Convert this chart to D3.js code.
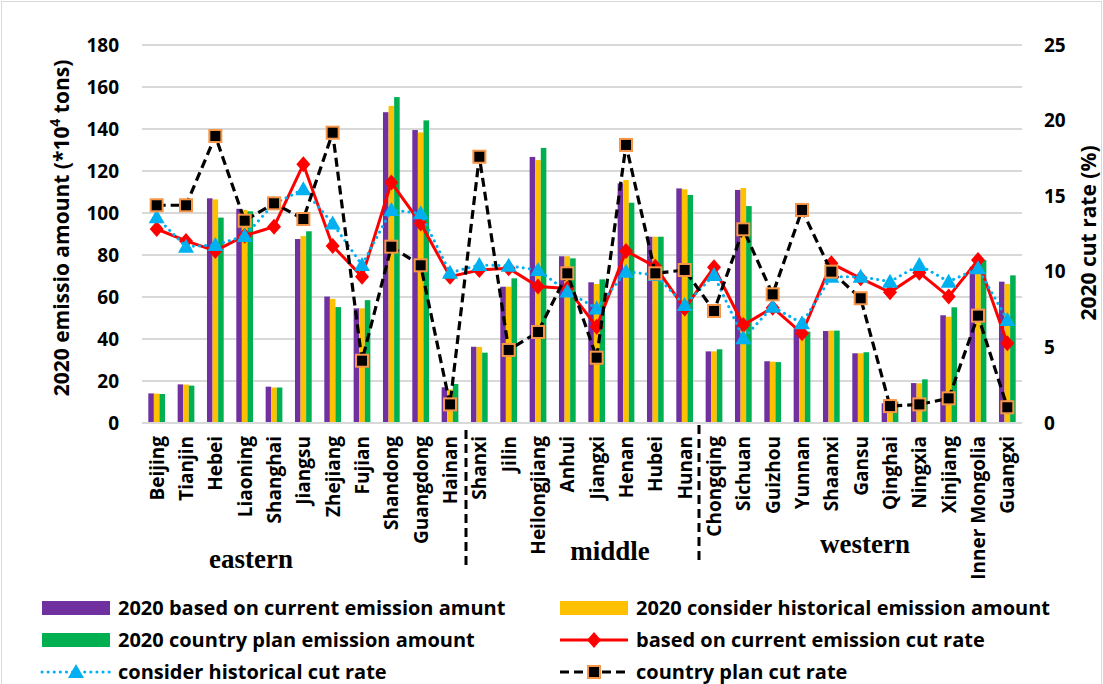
<!DOCTYPE html>
<html><head><meta charset="utf-8">
<script src="https://cdn.jsdelivr.net/npm/d3@7"></script>
<style>body{margin:0;background:#fff}svg{display:block}</style>
</head><body>
<svg id="c" width="1103" height="684"></svg>
<script>
const categories = ["Beijing","Tianjin","Hebei","Liaoning","Shanghai","Jiangsu","Zhejiang","Fujian","Shandong","Guangdong","Hainan","Shanxi","Jilin","Heilongjiang","Anhui","Jiangxi","Henan","Hubei","Hunan","Chongqing","Sichuan","Guizhou","Yunnan","Shaanxi","Gansu","Qinghai","Ningxia","Xinjiang","Inner Mongolia","Guangxi"];
const currentAmount    = [14.1,18.4,107,102,17.3,87.6,60.2,54.6,148,139.5,17,36.3,64.9,126.7,79.4,67,114.1,88.7,111.7,34.1,111,29.4,46,43.8,33.2,9.4,19,51.3,74.4,67.3];
const historicalAmount = [14,18.3,106.5,101.5,16.9,89,59.1,54.6,151,138.4,16,36.2,64.9,125.2,79.4,66.2,115.7,88.7,111.3,34.1,111.9,29.2,45,44,33.2,9.5,18.9,50.6,73.6,66.2];
const planAmount       = [13.8,17.8,97.8,100.8,16.9,91.3,55.2,58.5,155.2,144.1,18.6,33.5,68.9,131,78.4,68.4,104.9,88.7,108.6,35.1,103.3,29,43.5,44,33.7,10.2,20.8,55.1,77.6,70.3];
const currentRate    = [12.83,12.04,11.38,12.39,12.98,17.11,11.71,9.68,15.9,13.2,9.68,10.12,10.23,9.02,8.9,6.37,11.38,10.34,7.58,10.3,6.48,7.63,5.93,10.56,9.57,8.64,9.94,8.36,10.78,5.27];
const historicalRate = [13.6,11.66,11.77,12.37,14.5,15.46,13.2,10.45,14.09,13.87,9.94,10.45,10.4,10.12,8.69,7.58,10.01,9.79,7.8,9.79,5.6,7.69,6.59,9.68,9.68,9.35,10.45,9.35,10.23,6.81];
const planRate       = [14.4,14.4,18.98,13.38,14.53,13.49,19.2,4.12,11.66,10.43,1.23,17.61,4.83,6.02,9.9,4.32,18.39,9.9,10.12,7.41,12.81,8.51,14.09,10.01,8.25,1.12,1.23,1.63,7.1,1.04];
const leftTicks  = [0,20,40,60,80,100,120,140,160,180];
const rightTicks = [0,5,10,15,20,25];
const regions = ["eastern","middle","western"];
const legendLabels = ["2020 based on current emission amunt","2020 consider historical emission amount","2020 country plan emission amount","based on current emission cut rate","consider historical cut rate","country plan cut rate"];

const svg = d3.select("#c");
const L = 142, R = 1022, T = 45, B = 423;
const FONT = "'Open Sans', sans-serif";
const barColors = ["#7030A0","#FFC000","#00B050"];

svg.append("rect").attr("x",1.5).attr("y",1.5).attr("width",1100).attr("height",690)
  .attr("fill","none").attr("stroke","#d9d9d9").attr("stroke-width",1);

const x = d3.scaleBand().domain(categories).range([L,R]).paddingInner(0.43).paddingOuter(0.215);
const xs = d3.scaleBand().domain([0,1,2]).range([0,x.bandwidth()]);
const yL = d3.scaleLinear().domain([0,180]).range([B,T]);
const yR = d3.scaleLinear().domain([0,25]).range([B,T]);

// grid
svg.append("g").selectAll("line").data(leftTicks).join("line")
  .attr("x1",L).attr("x2",R).attr("y1",d=>yL(d)).attr("y2",d=>yL(d))
  .attr("stroke","#d9d9d9").attr("stroke-width",2);

// axes
const ga = svg.append("g").attr("transform",`translate(${L-23},0)`)
  .call(d3.axisLeft(yL).tickValues(leftTicks).tickSize(0).tickPadding(0));
ga.select(".domain").remove();
ga.selectAll("text").attr("font-family",FONT).attr("font-weight","bold").attr("font-size",19).attr("fill","#000");

const gr = svg.append("g").attr("transform",`translate(${R+22},0)`)
  .call(d3.axisRight(yR).tickValues(rightTicks).tickSize(0).tickPadding(0));
gr.select(".domain").remove();
gr.selectAll("text").attr("font-family",FONT).attr("font-weight","bold").attr("font-size",19).attr("fill","#000");

// bars
const series = [currentAmount, historicalAmount, planAmount];
series.forEach((arr,si)=>{
  svg.append("g").selectAll("rect").data(arr).join("rect")
    .attr("x",(d,i)=>x(categories[i])+xs(si))
    .attr("width",xs.bandwidth())
    .attr("y",d=>yL(d)).attr("height",d=>yL(0)-yL(d))
    .attr("fill",barColors[si]);
});

const cx = i => x(categories[i]) + x.bandwidth()/2;
const line = d3.line().x((d,i)=>cx(i)).y(d=>yR(d));

// red line
svg.append("path").datum(currentRate).attr("d",line).attr("fill","none").attr("stroke","#FF0000").attr("stroke-width",3);
svg.append("g").selectAll("path").data(currentRate).join("path")
  .attr("d","M0,-8L7,0L0,8L-7,0Z")
  .attr("transform",(d,i)=>`translate(${cx(i)},${yR(d)})`).attr("fill","#FF0000");

// blue dotted
svg.append("path").datum(historicalRate).attr("d",line).attr("fill","none").attr("stroke","#00B0F0")
  .attr("stroke-width",3).attr("stroke-dasharray","0.1 6").attr("stroke-linecap","round");
svg.append("g").selectAll("path").data(historicalRate).join("path")
  .attr("d","M0,-8L8,6L-8,6Z")
  .attr("transform",(d,i)=>`translate(${cx(i)},${yR(d)})`).attr("fill","#00B0F0");

// black dashed
svg.append("path").datum(planRate).attr("d",line).attr("fill","none").attr("stroke","#000")
  .attr("stroke-width",3.2).attr("stroke-dasharray","9 5");
svg.append("g").selectAll("rect").data(planRate).join("rect")
  .attr("x",(d,i)=>cx(i)-6).attr("y",d=>yR(d)-6).attr("width",12).attr("height",12)
  .attr("fill","#000").attr("stroke","#F79646").attr("stroke-width",2);

// bottom axis line
svg.append("line").attr("x1",L).attr("x2",R).attr("y1",B).attr("y2",B).attr("stroke","#d9d9d9").attr("stroke-width",2);

// category labels
svg.append("g").selectAll("text").data(categories).join("text")
  .attr("transform",(d)=>`translate(${x(d)+x.bandwidth()/2},436) rotate(-90)`)
  .attr("dy","0.36em").attr("text-anchor","end")
  .attr("font-family",FONT).attr("font-weight","bold").attr("font-size",19).text(d=>d);

// separators
const sep = [[466,430,568],[699,425,562]];
svg.append("g").selectAll("line").data(sep).join("line")
  .attr("x1",d=>d[0]).attr("x2",d=>d[0]).attr("y1",d=>d[1]).attr("y2",d=>d[2])
  .attr("stroke","#000").attr("stroke-width",3).attr("stroke-dasharray","9 5");

// region labels
const regPos = [[251,568],[610,560],[865,553]];
svg.append("g").selectAll("text").data(regions).join("text")
  .attr("x",(d,i)=>regPos[i][0]).attr("y",(d,i)=>regPos[i][1]).attr("text-anchor","middle")
  .attr("font-family","'Liberation Serif','Times New Roman',serif").attr("font-weight","bold").attr("font-size",27).text(d=>d);

// axis titles
const tl = svg.append("text").attr("transform","translate(69,228) rotate(-90)").attr("text-anchor","middle")
  .attr("font-family",FONT).attr("font-weight","bold").attr("font-size",21);
tl.append("tspan").text("2020 emissio amount (*10");
tl.append("tspan").attr("baseline-shift","super").attr("font-size",14).text("4");
tl.append("tspan").text(" tons)");
svg.append("text").attr("transform","translate(1089,233) rotate(-90)").attr("text-anchor","middle").attr("dy","0.35em")
  .attr("font-family",FONT).attr("font-weight","bold").attr("font-size",21).text("2020 cut rate (%)");

// legend
const lg = svg.append("g");
const lpos = [[42,608],[560,608],[42,640],[560,640],[42,672],[560,672]];
lpos.forEach((p,i)=>{
  const [lx,ly] = p;
  if(i<3){
    lg.append("rect").attr("x",lx).attr("y",ly-7).attr("width",68).attr("height",14).attr("fill",barColors[i]);
  } else if(i===3){
    lg.append("line").attr("x1",lx).attr("x2",lx+68).attr("y1",ly).attr("y2",ly).attr("stroke","#FF0000").attr("stroke-width",3);
    lg.append("path").attr("d","M0,-8L7,0L0,8L-7,0Z").attr("transform",`translate(${lx+34},${ly})`).attr("fill","#FF0000");
  } else if(i===4){
    lg.append("line").attr("x1",lx).attr("x2",lx+68).attr("y1",ly).attr("y2",ly).attr("stroke","#00B0F0").attr("stroke-width",3).attr("stroke-dasharray","0.1 6").attr("stroke-linecap","round");
    lg.append("path").attr("d","M0,-8L8,6L-8,6Z").attr("transform",`translate(${lx+34},${ly})`).attr("fill","#00B0F0");
  } else {
    lg.append("line").attr("x1",lx).attr("x2",lx+68).attr("y1",ly).attr("y2",ly).attr("stroke","#000").attr("stroke-width",3.2).attr("stroke-dasharray","9 5");
    lg.append("rect").attr("x",lx+28).attr("y",ly-6).attr("width",12).attr("height",12).attr("fill","#000").attr("stroke","#F79646").attr("stroke-width",2);
  }
  lg.append("text").attr("x",lx+76).attr("y",ly).attr("dy","0.35em")
    .attr("font-family",FONT).attr("font-weight","bold").attr("font-size",20).text(legendLabels[i]);
});
</script>
</body></html>
